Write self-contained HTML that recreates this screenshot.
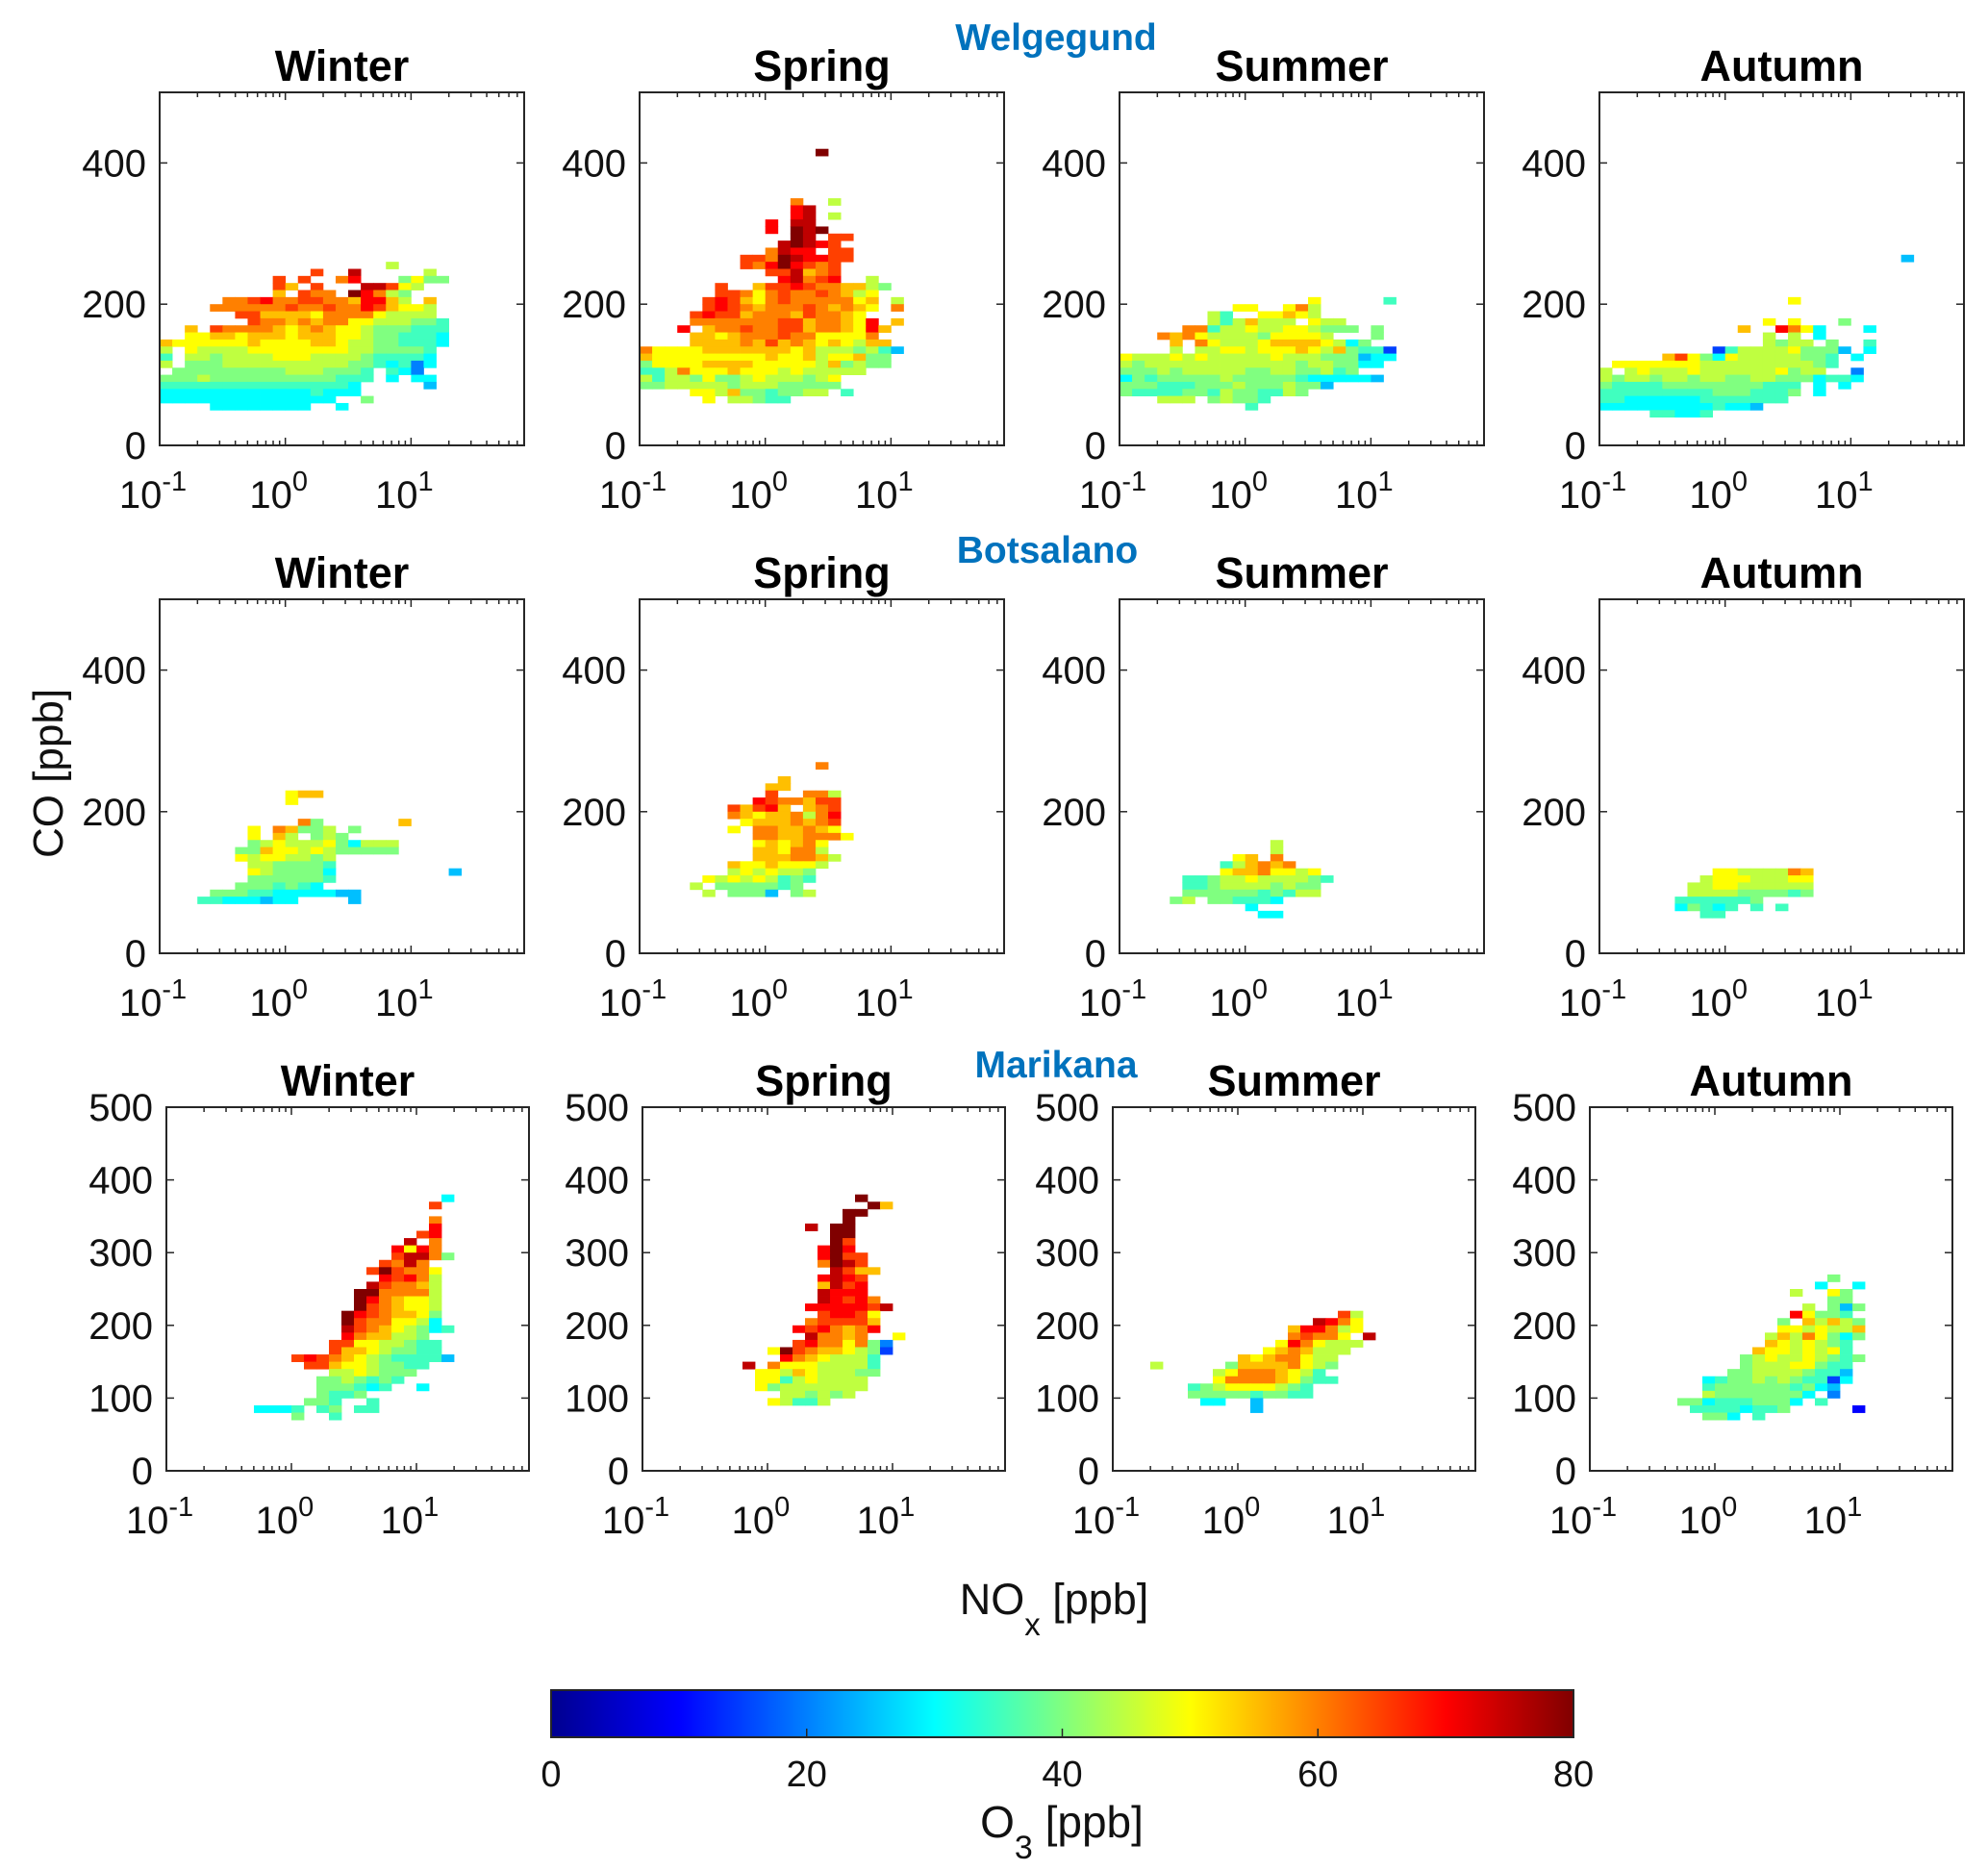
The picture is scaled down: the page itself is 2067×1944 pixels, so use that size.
<!DOCTYPE html>
<html><head><meta charset="utf-8">
<style>
html,body{margin:0;padding:0;background:#fff;}
svg{display:block;font-family:"Liberation Sans",Arial,sans-serif;}
</style></head>
<body>
<svg id="fig" width="2067" height="1944" viewBox="0 0 2067 1944" xmlns="http://www.w3.org/2000/svg">
<defs>
<linearGradient id="jet" x1="0" x2="1" y1="0" y2="0">
<stop offset="0" stop-color="#00008f"/><stop offset="0.125" stop-color="#0000ff"/>
<stop offset="0.375" stop-color="#00ffff"/><stop offset="0.625" stop-color="#ffff00"/>
<stop offset="0.875" stop-color="#ff0000"/><stop offset="1" stop-color="#800000"/>
</linearGradient>
</defs>
</svg>
<script>
// Grid codes: each char = O3 level, value = index * 5 ppb; '.' = no data
const CODES = "0123456789ABCDEFG";
const stations = ["Welgegund", "Botsalano", "Marikana"];
const seasons = ["Winter", "Spring", "Summer", "Autumn"];
const yTicksTop = [0, 200, 400];
const yTicksBottom = [0, 100, 200, 300, 400, 500];
const xTickExps = [-1, 0, 1];
const cbTicks = [0, 20, 40, 60, 80];
// top row index (CO bin of 10 ppb) for each panel, then rows top-to-bottom; column = 0.1 decade bin from 10^-1
const topRows = [25, 41, 20, 26, 22, 26, 15, 11, 37, 37, 21, 26];
const grid0 = ["..................9","............D..F.....9",".........D.D..CE...8A88",".........DB.D...FFDA9",".........B.DCC.GEC98",".....CCDECCDDCCBEEB9.B","....CCCCCCDCCDCCEDBAA9","......DDBBBBACCCCA9999",".......DCCBCBCCAA999887","..B.DCCCCBABCBAA9888777","..AABBABBBABBBAA9887776","BAAAAAABAAAABBA99887776","9.A9999AAAAAAAA9988887","7.9989999AAA9999877776","9.88899999999998876746",".8888888889998887.764","88898888888888777.6.66","7777777777777776.....5","6666666666667666","66666666666666..8","....66666666..6"];
const grid1 = ["..............G","","","","","","","............C..9","............EF","............EF.9","..........E.FF","..........E.GFG","............GF.DD","...........FGFED","..........CFEE.DD","........DDCGFEEDD","........DCEGEDCD","..........DDFBCD","...........EFCDE..9","......D..BDDEDCCBB98","......DDCACDCCDCB9A",".....DEDBACDCCCCCAB.9",".....DEDCBCCCDCBCBA.C","....DEDDBCCCBDCCBA","....CCCCCCCDDBCCBAE.B","...E.BCCDCCDDBCCBAEB","....BBABCCCDCCAAAAC","....BBBBCBDBCBABA9BB","CAAAABBBBBBBAB9998975","BAAAAAAAAABAAB9AAB88","8AAAABBBBAAAAA9B8988","779CAAABAAA9A99999","97998A889A99989A","8899999899988888","....AA9B8878899.7",".....A.99877"];
const grid2 = ["...............A.....7",".........AA..AC9",".......97..AABA9",".......979B999.A99",".....CC799A99AA9888.8","...CBCA99998AAAA9...8","....B.CA999ABBBBA968","....9.99AA9AAABA9B8773","A999A9A99999A999888566","989999999999998998866","8889899999889988978","687888889888887666665","88877788898889885","877778879887798","...999.89887","..........7"];
const grid3 = ["........................5","","","","","","...............A","","",".............A.A...8","...........B..ECA6...6",".............9.9.6",".............9899.8..7",".........379999A8885.6",".....BDA86A99999887.6",".AAAAAAA99999999987","9.9A999A999999A899..4","989989989988998886776","8777788888888777.6.6","7777777778887778.6","776666667777777","6666666667665","....77667"];
const grid4 = ["..........ABB","..........A","","","...........C8......B",".......A.CB889.8",".......A.B9.898",".......89A999A86999","......88BAA9A988888","......A9AA9989",".......9988887",".......A988886.........5",".......8888887","......8887876","....888776666655","...77666566....5"];
const grid5 = ["..............C","","...........B","..........BB","..........D..CC9",".........EDCCBDD",".......DBDEB.BCD",".......CBABBC9CE","........ABBBCBCD",".......A.CCBBCBA",".........CCBBCCCA",".........ABABCA",".........BBACC9",".........BBBCCB9",".......BAABAAA9",".......9A9A998",".....A9A9A9787","....9.8888878",".....9.8885.89"];
const grid6 = ["............9","............9",".........AB.C","........79BCBC","........ABBCAA9A",".....77899A999987",".....77899998988",".....88888878799","....89.887776","..........6","...........66"];
const grid7 = [".........AA9999CB","........9AAA999AA",".......99AA999999",".......9999888878","......7777778","......68767.7.7","........77"];
const grid8 = ["......................6",".....................D","",".....................C",".....................E","....................DE","...................F.C","..................EAEC","..................DFFC8",".................DCFC","................DGDCCA",".................EDEC9","................FDCCB9","...............GGCCCC9","...............GECBAA9","...............GDCBAA9","..............GEDCBBA8","..............GDCCAA96","..............FDCBA9867","..............ECBB998",".............DDAA99877",".............DBBA98877","..........DEDCBA9877775","...........DDBAA98877",".............99A9888","............8898787","............888767..6","............8778","...........887..7",".......6667.78.77","..........8..7"];
const grid9 = [".................G","..................GB","................GG","................G",".............F.GG","...............GG","...............GD","..............EGE","..............EGDD","..............CGFD","...............FDBB","..............EFED","..............BFDE","..............FEEE","..............FEDEC",".............EEEEEDF","..............DEEDA",".............CDDDDB","............EDECBCE",".............FCCBC..A","............DECCAC84","..........AGDCBBA983","...........ECBA9997","........F.CAAA99997",".........AA9BA99988",".........AA79A9999",".........A89999999","...........998989","..........A9779"];
const grid10 = ["..................D9","................FECA","..............BEEC9A","..............CDCCA.F",".............AECA999","............ABCB999","..........BABCCA99","...9.....8BBBBCA98","........9ACCCBA97","........ACCCCBA877","......789AAAA987","......8888878877",".......66..5","...........5"];
const grid11 = ["...................8","..................6..6","................9..A8","...................88",".................9.858","................EA887","...............8.B9B98","...............AA9A99B","..............9B9CA868","..............BA9A987",".............BAA9A9A7","............89A99A9878","............8999AA877","...........8899998775",".........678898987736",".........78888887865",".........988888886.4",".......8867778886.7","........77776778.....2",".........886.7"];
const grids = [grid0, grid1, grid2, grid3, grid4, grid5, grid6, grid7, grid8, grid9, grid10, grid11];

const NS = "http://www.w3.org/2000/svg";
const svg = document.getElementById("fig");
function mk(tag, attrs, parent) {
  const e = document.createElementNS(NS, tag);
  for (const k in attrs) e.setAttribute(k, attrs[k]);
  (parent || svg).appendChild(e);
  return e;
}
function jet(v) {
  const c = x => Math.round(255 * Math.max(0, Math.min(1, x)));
  return "rgb(" + c(1.5 - Math.abs(4 * v - 3)) + "," + c(1.5 - Math.abs(4 * v - 2)) + "," + c(1.5 - Math.abs(4 * v - 1)) + ")";
}
const rowBoxes = [{top: 96, bottom: 463}, {top: 623, bottom: 991}, {top: 1151, bottom: 1529}];
const rowLefts = [[166, 665, 1164, 1663], [166, 665, 1164, 1663], [173, 668, 1157, 1653]];
const rowWidths = [379, 379, 377];
const LXMIN = -1, LXMAX = 1.9, YMAX = 500;

for (let p = 0; p < 12; p++) {
  const ri = Math.floor(p / 4), ci = p % 4;
  const L = rowLefts[ri][ci], W = rowWidths[ri], T = rowBoxes[ri].top, B = rowBoxes[ri].bottom, H = B - T;
  const xs = lx => L + (lx - LXMIN) / (LXMAX - LXMIN) * W;
  const ys = v => B - v / YMAX * H;
  const g = mk("g", {});
  
  
  const rows = grids[p];
  for (let k = 0; k < rows.length; k++) {
    const r = topRows[p] - k;
    const s = rows[k];
    for (let c = 0; c < s.length; c++) {
      const idx = CODES.indexOf(s[c]);
      if (idx < 0) continue;
      const o3 = idx * 5;
      const x0 = xs(LXMIN + c * 0.1), x1 = xs(LXMIN + (c + 1) * 0.1);
      const y1 = ys(r * 10), y0 = ys((r + 1) * 10);
      const cell = mk("rect", {x: x0.toFixed(2), y: y0.toFixed(2), width: (x1 - x0 + 0.4).toFixed(2), height: (y1 - y0 + 0.4).toFixed(2), fill: jet(o3 / 80)}, g);
      
      
    }
  }
  const box = mk("rect", {x: L, y: T, width: W, height: H, fill: "none", stroke: "#262626", "stroke-width": 2}, g);
  
  
  for (let e = -1; e <= 1; e++) {
    for (let m = 1; m <= 9; m++) {
      const lx = e + Math.log10(m);
      if (lx > LXMAX) continue;
      const x = xs(lx), len = m === 1 ? 8 : 5;
      mk("line", {x1: x, x2: x, y1: B, y2: B - len, stroke: "#262626", "stroke-width": 1.5}, g);
      mk("line", {x1: x, x2: x, y1: T, y2: T + len, stroke: "#262626", "stroke-width": 1.5}, g);
    }
  }
  xTickExps.forEach(e => {
    const t = mk("text", {x: xs(e) - 7, y: B + 65, "font-size": 40, "text-anchor": "middle", fill: "#111"}, g);
    
    
    t.appendChild(document.createTextNode("10"));
    const sup = mk("tspan", {dy: -18, "font-size": 29}, t);
    sup.textContent = (e < 0 ? "-" : "") + Math.abs(e);
  });
  const yt = ri === 2 ? yTicksBottom : yTicksTop;
  yt.forEach(v => {
    const y = ys(v);
    mk("line", {x1: L, x2: L + 8, y1: y, y2: y, stroke: "#262626", "stroke-width": 1.5}, g);
    mk("line", {x1: L + W, x2: L + W - 8, y1: y, y2: y, stroke: "#262626", "stroke-width": 1.5}, g);
    const t = mk("text", {x: L - 14, y: y + 14, "font-size": 40, "text-anchor": "end", fill: "#111"}, g);
    
    
    t.textContent = v;
  });
  const tt = mk("text", {x: L + W / 2, y: T - 12, "font-size": 45, "font-weight": "bold", "text-anchor": "middle", fill: "#000"}, g);
  
  
  tt.textContent = seasons[ci];
}
const stPos = [[1098, 52], [1089, 585], [1098, 1120]];
stations.forEach((s, i) => {
  const t = mk("text", {x: stPos[i][0], y: stPos[i][1], "font-size": 39, "font-weight": "bold", "text-anchor": "middle", fill: "#0072BD"});
  
  
  t.textContent = s;
});
const yl = mk("text", {x: 0, y: 0, "font-size": 44, "text-anchor": "middle", fill: "#111", transform: "translate(65,804) rotate(-90)"});


yl.textContent = "CO [ppb]";
const xl = mk("text", {x: 1096, y: 1678, "font-size": 45, "text-anchor": "middle", fill: "#111"});


xl.appendChild(document.createTextNode("NO"));
const xsub = mk("tspan", {dy: 22, "font-size": 33}, xl);
xsub.textContent = "x";
const xrest = mk("tspan", {dy: -22}, xl);
xrest.textContent = " [ppb]";
const CB = {x: 573, y: 1757, w: 1063, h: 49};
const cb = mk("rect", {x: CB.x, y: CB.y, width: CB.w, height: CB.h, fill: "url(#jet)", stroke: "#262626", "stroke-width": 2});


cbTicks.forEach(v => {
  const x = CB.x + v / 80 * CB.w;
  if (v > 0 && v < 80) mk("line", {x1: x, x2: x, y1: CB.y + CB.h, y2: CB.y + CB.h - 9, stroke: "#262626", "stroke-width": 1.5});
  const t = mk("text", {x: x, y: 1857, "font-size": 38, "text-anchor": "middle", fill: "#111"});
  
  
  t.textContent = v;
});
const cl = mk("text", {x: 1104, y: 1910, "font-size": 46, "text-anchor": "middle", fill: "#111"});


cl.appendChild(document.createTextNode("O"));
const csub = mk("tspan", {dy: 22, "font-size": 34}, cl);
csub.textContent = "3";
const crest = mk("tspan", {dy: -22}, cl);
crest.textContent = " [ppb]";
</script>
</body></html>
